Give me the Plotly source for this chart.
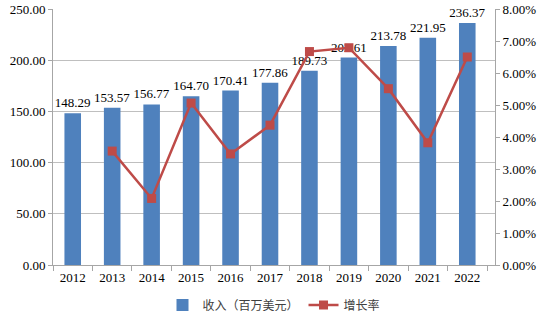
import plotly.graph_objects as go

years = ["2012", "2013", "2014", "2015", "2016", "2017", "2018", "2019", "2020", "2021", "2022"]
revenue = [148.29, 153.57, 156.77, 164.70, 170.41, 177.86, 189.73, 202.61, 213.78, 221.95, 236.37]
growth_years = ["2013", "2014", "2015", "2016", "2017", "2018", "2019", "2020", "2021", "2022"]
growth = [0.0356, 0.0208, 0.0506, 0.0347, 0.0437, 0.0667, 0.0679, 0.0551, 0.0382, 0.0650]

serif = "Liberation Serif, Times New Roman, serif"
cjk = "Noto Sans CJK SC"

fig = go.Figure()
fig.add_trace(go.Bar(
    x=years, y=revenue, name="收入（百万美元）",
    marker=dict(color="#4F81BD", line=dict(width=0)),
    text=[f"{v:.2f}" for v in revenue], textposition="outside",
    textangle=0, constraintext="none",
    textfont=dict(family=serif, size=13, color="#000000"),
    cliponaxis=False,
))
fig.add_trace(go.Scatter(
    x=growth_years, y=growth, name="增长率", yaxis="y2",
    mode="lines+markers",
    line=dict(color="#BE4B48", width=2.5),
    marker=dict(symbol="square", size=9, color="#BE4B48"),
))

tf = dict(family=serif, size=13, color="#000000")

fig.update_layout(
    width=544, height=322,
    font=dict(family=serif, size=13, color="#000000"),
    margin=dict(l=53, r=49, t=9, b=57, autoexpand=False),
    paper_bgcolor="white", plot_bgcolor="white",
    bargap=0.58,
    showlegend=True,
    legend=dict(orientation="h", x=0.5, xanchor="center", y=-0.156, yanchor="middle",
                font=dict(family=cjk, size=12, color="#404040"),
                itemwidth=30),
    xaxis=dict(type="category", showgrid=False, showline=True, linecolor="#A6A6A6",
               ticks="outside", tickcolor="#A6A6A6", ticklen=5, tickson="boundaries",
               automargin=False, tickfont=tf),
    yaxis=dict(range=[0, 250], dtick=50, tickformat=".2f", showgrid=True,
               gridcolor="#BFBFBF", gridwidth=1, showline=True, linecolor="#A6A6A6",
               ticks="outside", tickcolor="#A6A6A6", ticklen=4, zeroline=False,
               automargin=False, tickfont=tf),
    yaxis2=dict(range=[0, 0.08], dtick=0.01, tickformat=".2%", overlaying="y", side="right",
                showgrid=False, showline=True, linecolor="#A6A6A6",
                ticks="outside", tickcolor="#A6A6A6", ticklen=4, zeroline=False,
                automargin=False, tickfont=tf),
)

fig.write_html("out.html")
